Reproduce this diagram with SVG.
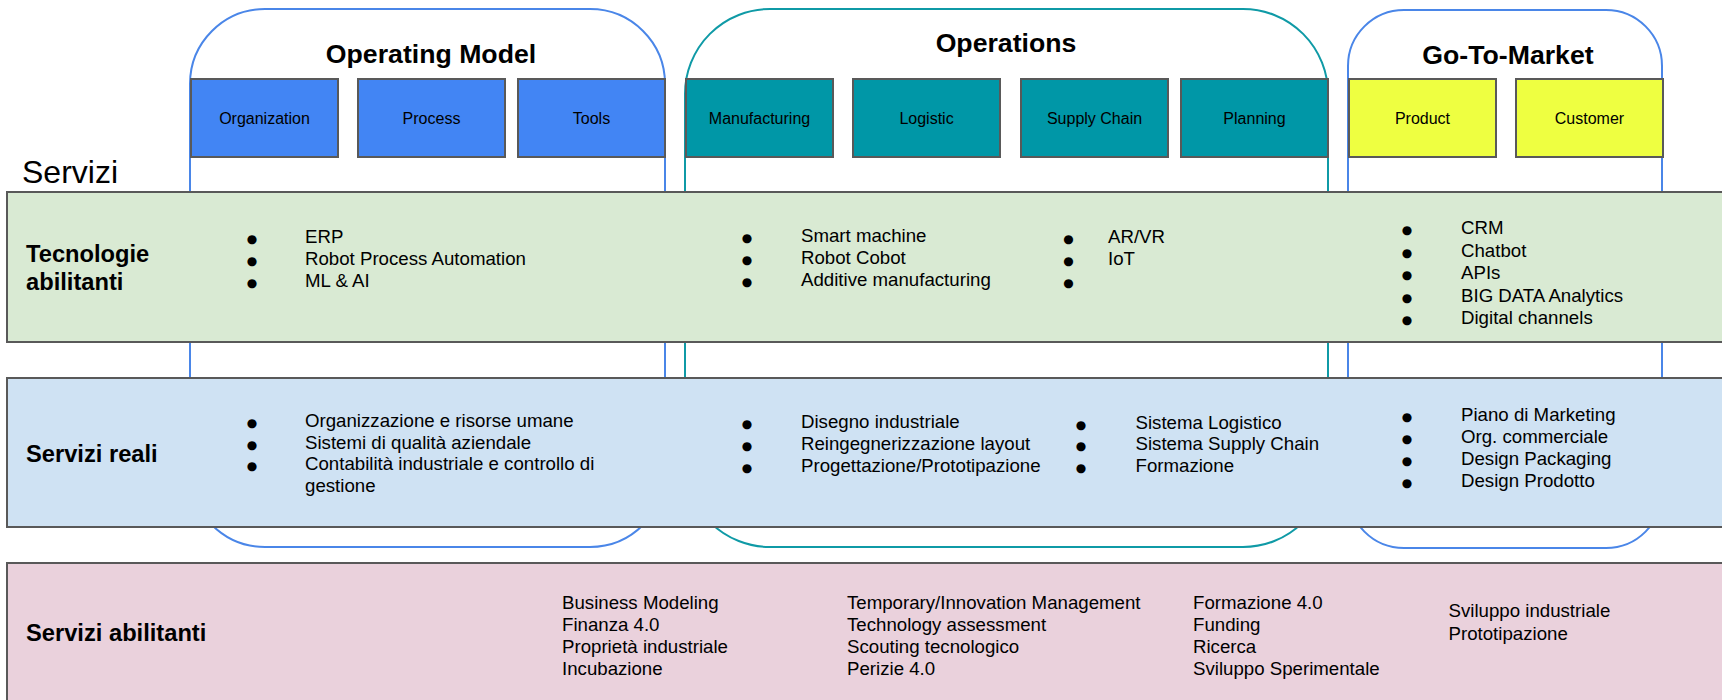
<svg xmlns="http://www.w3.org/2000/svg" width="1722" height="700" viewBox="0 0 1722 700">
<style>
text{font-family:"Liberation Sans",Arial,sans-serif;fill:#000}
.cont{fill:#fff;stroke-width:2}
.c-blue{stroke:#4a86e8}
.c-teal{stroke:#0f9aa6}
.title{font-size:26.67px;font-weight:bold;text-anchor:middle}
.box{stroke:#595959;stroke-width:2}
.b-blue{fill:#4285f4}
.b-teal{fill:#0097a7}
.b-yel{fill:#eeff41}
.blabel{font-size:16px;text-anchor:middle}
.band{stroke:#595959;stroke-width:2}
.rowlab{font-size:23.7px;font-weight:bold}
.li{font-size:18.67px}
.bul{font-family:"DejaVu Sans",sans-serif;font-size:12px;text-anchor:middle}
.big{font-size:32px}
</style>

<g id="container-operating-model">
<path class="cont c-blue" d="M190,472 L190,84 A75,75 0 0 1 265,9 L590,9 A75,75 0 0 1 665,84 L665,472 A75,75 0 0 1 590,547 L265,547 A75,75 0 0 1 190,472 Z"/>
<text class="title" x="431" y="63">Operating Model</text>
</g>
<g id="container-operations">
<path class="cont c-teal" d="M685,94 A85,85 0 0 1 770,9 L1243,9 A85,85 0 0 1 1328,94 L1328,462 A85,85 0 0 1 1243,547 L770,547 A85,85 0 0 1 685,462 Z"/>
<text class="title" x="1006" y="52">Operations</text>
</g>
<g id="container-go-to-market">
<path class="cont c-blue" d="M1348,66 A56,56 0 0 1 1404,10 L1606,10 A56,56 0 0 1 1662,66 L1662,492 A56,56 0 0 1 1606,548 L1404,548 A56,56 0 0 1 1348,492 Z"/>
<text class="title" x="1508" y="64">Go-To-Market</text>
</g>

<g id="box-organization"><rect class="box b-blue" x="191" y="79" width="147" height="78"/><text class="blabel" x="264.5" y="123.5">Organization</text></g>
<g id="box-process"><rect class="box b-blue" x="358" y="79" width="147" height="78"/><text class="blabel" x="431.5" y="123.5">Process</text></g>
<g id="box-tools"><rect class="box b-blue" x="518" y="79" width="147" height="78"/><text class="blabel" x="591.5" y="123.5">Tools</text></g>
<g id="box-manufacturing"><rect class="box b-teal" x="686" y="79" width="147" height="78"/><text class="blabel" x="759.5" y="123.5">Manufacturing</text></g>
<g id="box-logistic"><rect class="box b-teal" x="853" y="79" width="147" height="78"/><text class="blabel" x="926.5" y="123.5">Logistic</text></g>
<g id="box-supply-chain"><rect class="box b-teal" x="1021" y="79" width="147" height="78"/><text class="blabel" x="1094.5" y="123.5">Supply Chain</text></g>
<g id="box-planning"><rect class="box b-teal" x="1181" y="79" width="147" height="78"/><text class="blabel" x="1254.5" y="123.5">Planning</text></g>
<g id="box-product"><rect class="box b-yel" x="1349" y="79" width="147" height="78"/><text class="blabel" x="1422.5" y="123.5">Product</text></g>
<g id="box-customer"><rect class="box b-yel" x="1516" y="79" width="147" height="78"/><text class="blabel" x="1589.5" y="123.5">Customer</text></g>

<g id="label-servizi"><text class="big" x="22" y="183">Servizi</text></g>

<g id="band-tecnologie">
<rect class="band" x="7" y="192" width="1730" height="150" fill="#d9ead3"/>
<text class="rowlab" x="26" y="262">Tecnologie</text>
<text class="rowlab" x="26" y="290">abilitanti</text>
<text class="bul" x="252" y="243">●</text><text class="li" x="305" y="243">ERP</text>
<text class="bul" x="252" y="265">●</text><text class="li" x="305" y="265">Robot Process Automation</text>
<text class="bul" x="252" y="287">●</text><text class="li" x="305" y="287">ML &amp; AI</text>
<text class="bul" x="747" y="242">●</text><text class="li" x="801" y="242">Smart machine</text>
<text class="bul" x="747" y="264">●</text><text class="li" x="801" y="264">Robot Cobot</text>
<text class="bul" x="747" y="286">●</text><text class="li" x="801" y="286">Additive manufacturing</text>
<text class="bul" x="1068.5" y="243">●</text><text class="li" x="1108" y="243">AR/VR</text>
<text class="bul" x="1068.5" y="265">●</text><text class="li" x="1108" y="265">IoT</text>
<text class="bul" x="1068.5" y="287">●</text>
<text class="bul" x="1407" y="234">●</text><text class="li" x="1461" y="234">CRM</text>
<text class="bul" x="1407" y="257">●</text><text class="li" x="1461" y="257">Chatbot</text>
<text class="bul" x="1407" y="279">●</text><text class="li" x="1461" y="279">APIs</text>
<text class="bul" x="1407" y="302">●</text><text class="li" x="1461" y="302">BIG DATA Analytics</text>
<text class="bul" x="1407" y="324">●</text><text class="li" x="1461" y="324">Digital channels</text>
</g>

<g id="band-servizi-reali">
<rect class="band" x="7" y="378" width="1730" height="149" fill="#cfe2f3"/>
<text class="rowlab" x="26" y="462">Servizi reali</text>
<text class="bul" x="252" y="427">●</text><text class="li" x="305" y="427">Organizzazione e risorse umane</text>
<text class="bul" x="252" y="448.5">●</text><text class="li" x="305" y="448.5">Sistemi di qualità aziendale</text>
<text class="bul" x="252" y="470">●</text><text class="li" x="305" y="470">Contabilità industriale e controllo di</text>
<text class="li" x="305" y="492">gestione</text>
<text class="bul" x="747" y="427.5">●</text><text class="li" x="801" y="427.5">Disegno industriale</text>
<text class="bul" x="747" y="449.5">●</text><text class="li" x="801" y="449.5">Reingegnerizzazione layout</text>
<text class="bul" x="747" y="471.5">●</text><text class="li" x="801" y="471.5">Progettazione/Prototipazione</text>
<text class="bul" x="1081" y="428.5">●</text><text class="li" x="1135.5" y="428.5">Sistema Logistico</text>
<text class="bul" x="1081" y="450">●</text><text class="li" x="1135.5" y="450">Sistema Supply Chain</text>
<text class="bul" x="1081" y="472">●</text><text class="li" x="1135.5" y="472">Formazione</text>
<text class="bul" x="1407" y="421">●</text><text class="li" x="1461" y="421">Piano di Marketing</text>
<text class="bul" x="1407" y="443">●</text><text class="li" x="1461" y="443">Org. commerciale</text>
<text class="bul" x="1407" y="465">●</text><text class="li" x="1461" y="465">Design Packaging</text>
<text class="bul" x="1407" y="487">●</text><text class="li" x="1461" y="487">Design Prodotto</text>
</g>

<g id="band-servizi-abilitanti">
<rect class="band" x="7" y="563" width="1730" height="150" fill="#ead1dc"/>
<text class="rowlab" x="26" y="641">Servizi abilitanti</text>
<text class="li" x="562" y="609">Business Modeling</text>
<text class="li" x="562" y="631">Finanza 4.0</text>
<text class="li" x="562" y="653">Proprietà industriale</text>
<text class="li" x="562" y="675">Incubazione</text>
<text class="li" x="847" y="608.5">Temporary/Innovation Management</text>
<text class="li" x="847" y="630.5">Technology assessment</text>
<text class="li" x="847" y="652.5">Scouting tecnologico</text>
<text class="li" x="847" y="674.5">Perizie 4.0</text>
<text class="li" x="1193" y="608.5">Formazione 4.0</text>
<text class="li" x="1193" y="630.5">Funding</text>
<text class="li" x="1193" y="652.5">Ricerca</text>
<text class="li" x="1193" y="674.5">Sviluppo Sperimentale</text>
<text class="li" x="1448.5" y="617">Sviluppo industriale</text>
<text class="li" x="1448.5" y="640">Prototipazione</text>
</g>

<g id="connectors"></g>
</svg>
